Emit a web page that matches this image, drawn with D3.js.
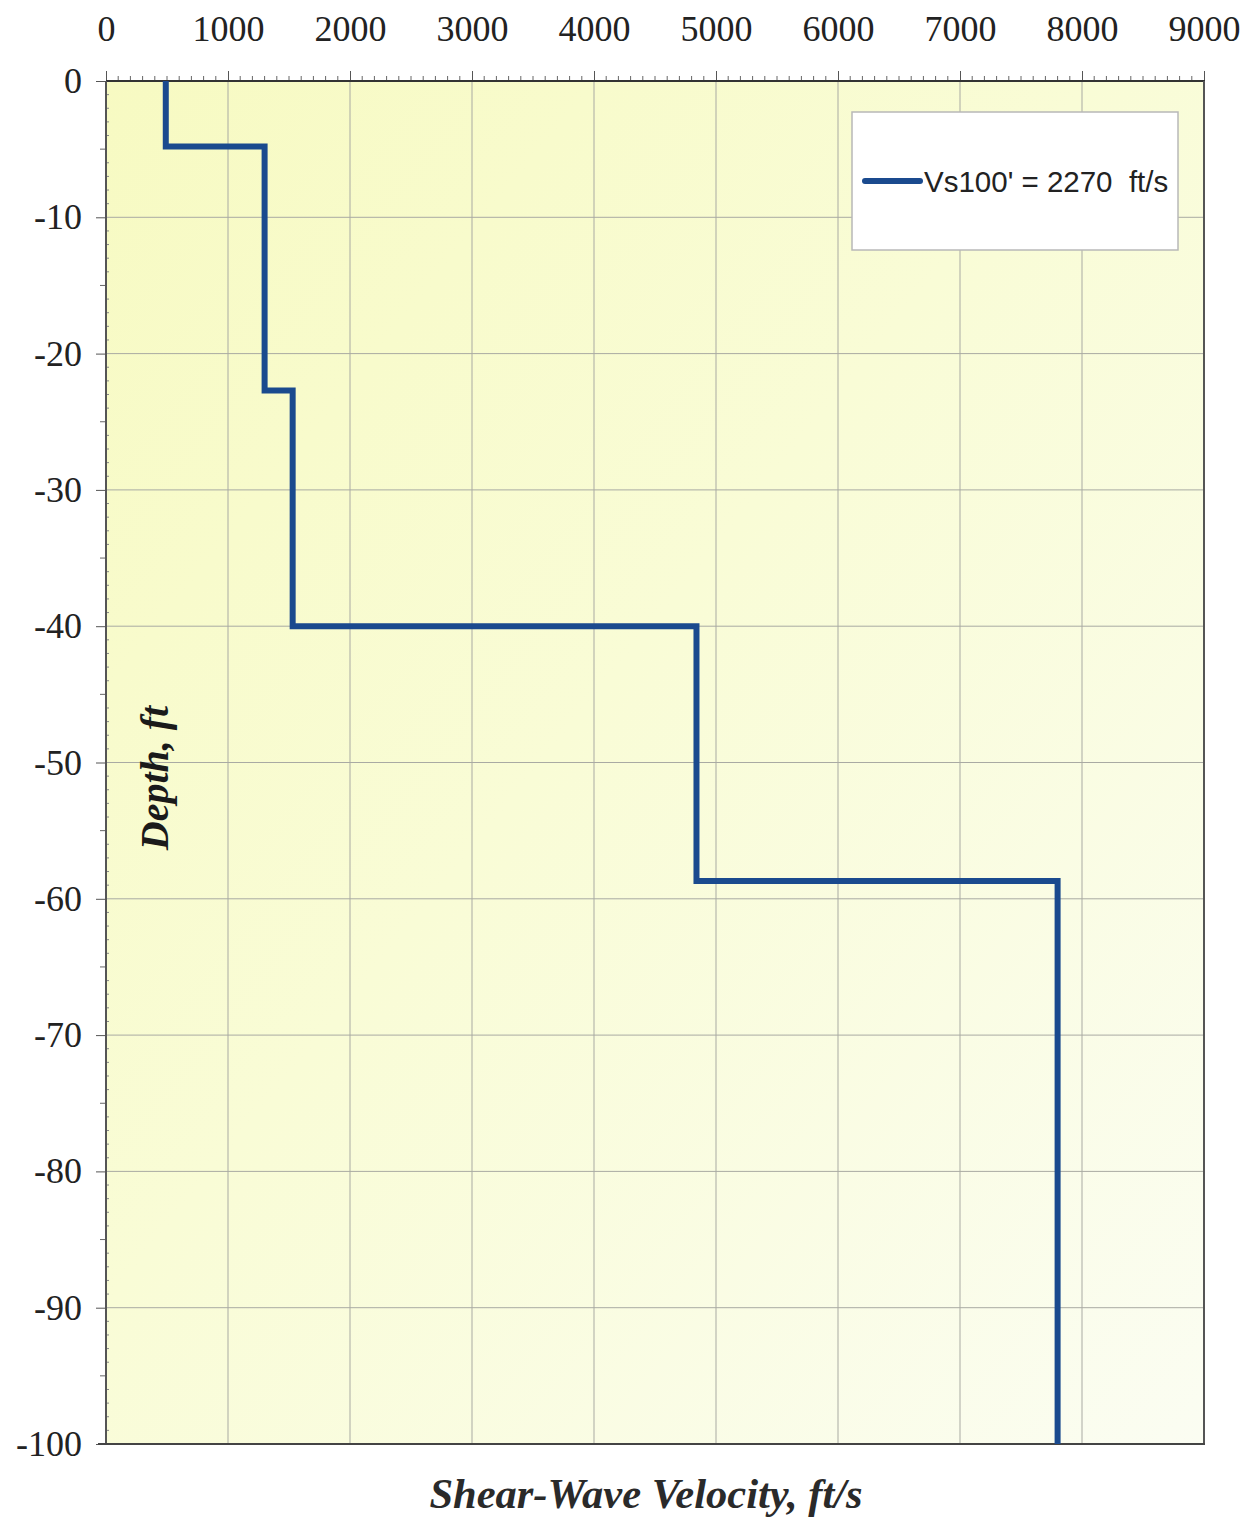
<!DOCTYPE html>
<html>
<head>
<meta charset="utf-8">
<script src="https://cdn.jsdelivr.net/npm/d3@7"></script>
<style>
  html, body { margin: 0; padding: 0; background: #ffffff; }
  svg { display: block; }
</style>
</head>
<body>
<svg id="chart" width="1248" height="1520"></svg>
<script>
// Layered shear-wave velocity profile: each layer has a top depth, bottom depth and Vs (ft/s)
const layerTop    = [0, -4.8, -22.7, -40, -58.7];
const layerBottom = [-4.8, -22.7, -40, -58.7, -100];
const layerVs     = [490, 1300, 1530, 4840, 7800];

const xTicks = [0, 1000, 2000, 3000, 4000, 5000, 6000, 7000, 8000, 9000];
const yTicks = [0, -10, -20, -30, -40, -50, -60, -70, -80, -90, -100];
const legendLabel = "Vs100' = 2270  ft/s";

const svg = d3.select("#chart");
const plot = { left: 106, right: 1204, top: 81, bottom: 1444 };

const x = d3.scaleLinear().domain([0, 9000]).range([plot.left, plot.right]);
const y = d3.scaleLinear().domain([0, -100]).range([plot.top, plot.bottom]);

// Plain hyphen for negative tick labels
const fmt = d => String(d);

// Plot-area fill: pale yellow fading toward the lower right
const defs = svg.append("defs");
const grad = defs.append("linearGradient")
  .attr("id", "bgGrad").attr("x1", "0").attr("y1", "0").attr("x2", "1").attr("y2", "1");
grad.append("stop").attr("offset", "0%").attr("stop-color", "#f7fac2");
grad.append("stop").attr("offset", "45%").attr("stop-color", "#f9fcd6");
grad.append("stop").attr("offset", "100%").attr("stop-color", "#fbfdf2");

svg.append("rect")
  .attr("x", plot.left).attr("y", plot.top)
  .attr("width", plot.right - plot.left).attr("height", plot.bottom - plot.top)
  .attr("fill", "url(#bgGrad)");

// Gridlines
const grid = svg.append("g").attr("stroke", "#a9aaa3").attr("stroke-width", 1);
grid.selectAll("line.vx").data(xTicks.slice(1, -1)).join("line")
  .attr("x1", d => x(d)).attr("x2", d => x(d))
  .attr("y1", plot.top).attr("y2", plot.bottom);
grid.selectAll("line.hy").data(yTicks.slice(1, -1)).join("line")
  .attr("y1", d => y(d)).attr("y2", d => y(d))
  .attr("x1", plot.left).attr("x2", plot.right);

// Top axis (velocity) with labels, major and minor ticks
const xAxis = d3.axisTop(x).tickValues(xTicks).tickSize(10).tickPadding(30)
  .tickFormat(fmt);
const gx = svg.append("g").attr("transform", `translate(0,${plot.top})`).call(xAxis);
gx.select(".domain").remove();
gx.selectAll(".tick line").attr("stroke", "#555").attr("stroke-width", 1);
gx.selectAll(".tick text")
  .attr("font-family", "'Liberation Serif', 'Times New Roman', serif")
  .attr("font-size", 36).attr("fill", "#222");

const xMinor = d3.range(0, 9001, 100).filter(v => v % 1000 !== 0);
svg.append("g").selectAll("line").data(xMinor).join("line")
  .attr("x1", d => x(d)).attr("x2", d => x(d))
  .attr("y1", plot.top - 5).attr("y2", plot.top)
  .attr("stroke", "#666").attr("stroke-width", 1);

// Left axis (depth)
const yAxis = d3.axisLeft(y).tickValues(yTicks).tickSize(10).tickPadding(14)
  .tickFormat(fmt);
const gy = svg.append("g").attr("transform", `translate(${plot.left},0)`).call(yAxis);
gy.select(".domain").remove();
gy.selectAll(".tick line").attr("stroke", "#555").attr("stroke-width", 1);
gy.selectAll(".tick text")
  .attr("font-family", "'Liberation Serif', 'Times New Roman', serif")
  .attr("font-size", 36).attr("fill", "#222").attr("dy", "0.32em");

const yMid = d3.range(-5, -100, -10);
svg.append("g").selectAll("line").data(yMid).join("line")
  .attr("x1", plot.left - 6).attr("x2", plot.left)
  .attr("y1", d => y(d)).attr("y2", d => y(d))
  .attr("stroke", "#666").attr("stroke-width", 1);

const yFine = d3.range(-1, -100, -1).filter(v => v % 5 !== 0);
svg.append("g").selectAll("line").data(yFine).join("line")
  .attr("x1", plot.left).attr("x2", plot.left + 3)
  .attr("y1", d => y(d)).attr("y2", d => y(d))
  .attr("stroke", "#888").attr("stroke-width", 1);

// Plot frame
svg.append("line").attr("x1", plot.left).attr("x2", plot.right + 1)
  .attr("y1", plot.top).attr("y2", plot.top).attr("stroke", "#333").attr("stroke-width", 2);
svg.append("line").attr("x1", plot.left).attr("x2", plot.left)
  .attr("y1", plot.top).attr("y2", plot.bottom).attr("stroke", "#555").attr("stroke-width", 2);
svg.append("line").attr("x1", plot.right).attr("x2", plot.right)
  .attr("y1", plot.top).attr("y2", plot.bottom + 1).attr("stroke", "#555").attr("stroke-width", 2);
svg.append("line").attr("x1", plot.left - 8).attr("x2", plot.right + 1)
  .attr("y1", plot.bottom).attr("y2", plot.bottom).attr("stroke", "#444").attr("stroke-width", 2);

// Step profile built from the layer arrays
const profile = [];
layerVs.forEach((v, i) => {
  profile.push([v, layerTop[i]]);
  profile.push([v, layerBottom[i]]);
});
const line = d3.line().x(d => x(d[0])).y(d => y(d[1]));
svg.append("path")
  .datum(profile)
  .attr("d", line)
  .attr("fill", "none")
  .attr("stroke", "#1a4a8e")
  .attr("stroke-width", 6)
  .attr("stroke-linejoin", "miter")
  .attr("stroke-linecap", "butt");

// Legend
const lg = svg.append("g");
lg.append("rect")
  .attr("x", 852).attr("y", 112).attr("width", 326).attr("height", 138)
  .attr("fill", "#ffffff").attr("stroke", "#b8b8b8").attr("stroke-width", 1.5);
lg.append("line")
  .attr("x1", 865).attr("x2", 920).attr("y1", 181).attr("y2", 181)
  .attr("stroke", "#1a4a8e").attr("stroke-width", 6).attr("stroke-linecap", "round");
lg.append("text")
  .attr("x", 924).attr("y", 192)
  .attr("font-family", "'Liberation Sans', Arial, sans-serif")
  .attr("font-size", 29.5).attr("fill", "#222")
  .attr("xml:space", "preserve")
  .style("white-space", "pre")
  .text(legendLabel);

// Axis titles
svg.append("text")
  .attr("x", 646).attr("y", 1508)
  .attr("text-anchor", "middle")
  .attr("font-family", "'Liberation Serif', 'Times New Roman', serif")
  .attr("font-size", 42.5).attr("font-weight", "bold").attr("font-style", "italic")
  .attr("fill", "#2a2a2a")
  .text("Shear-Wave Velocity, ft/s");

svg.append("text")
  .attr("transform", "translate(168,778) rotate(-90)")
  .attr("text-anchor", "middle")
  .attr("font-family", "'Liberation Serif', 'Times New Roman', serif")
  .attr("font-size", 40).attr("font-weight", "bold").attr("font-style", "italic")
  .attr("fill", "#1a1a1a")
  .text("Depth, ft");
</script>
</body>
</html>
